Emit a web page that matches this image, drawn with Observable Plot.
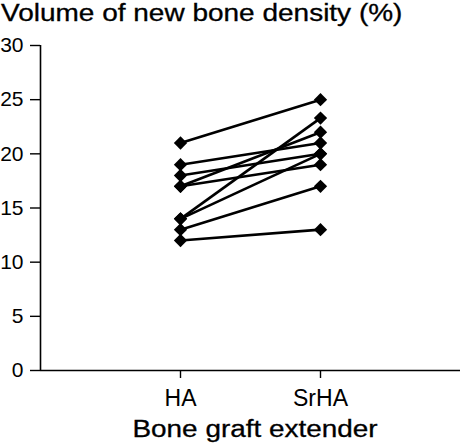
<!DOCTYPE html>
<html><head><meta charset="utf-8">
<script src="https://cdn.jsdelivr.net/npm/d3@7"></script>
<script src="https://cdn.jsdelivr.net/npm/@observablehq/plot@0.6"></script>
<style>
body{margin:0;background:#fff;font-family:"Liberation Sans",Arial,Helvetica,sans-serif;color:#000;width:462px;height:444px;overflow:hidden;}
#title{height:30px;line-height:30px;font-size:23px;white-space:nowrap;position:relative;}
#title span{display:inline-block;transform-origin:0 50%;transform:scaleX(1.217);position:relative;left:1px;top:-2px;-webkit-text-stroke:0.3px #000;}
#chart{height:385px;}
#xlabel{height:29px;line-height:29px;font-size:23px;white-space:nowrap;position:relative;}
#xlabel span{position:absolute;left:255px;display:inline-block;transform:translateX(-50%) scaleX(1.213);-webkit-text-stroke:0.3px #000;}
</style>
</head><body>
<div id="title"><span>Volume of new bone density (%)</span></div>
<div id="chart"></div>
<div id="xlabel"><span>Bone graft extender</span></div>
<script>
const categories = ["HA", "SrHA"];
const haValues   = [21, 19, 18, 17, 17, 14, 14, 13, 12];
const srhaValues = [25, 21, 20, 19, 22, 23.3, 20, 17, 13];
const yTicks = [0, 5, 10, 15, 20, 25, 30];

const pairs = haValues.map((v, i) => ({ha: v, srha: srhaValues[i]}));
const points = pairs.flatMap(d => [
  {cat: categories[0], v: d.ha},
  {cat: categories[1], v: d.srha}
]);
const xPos = c => categories.indexOf(c) + 1;

const plot = Plot.plot({
  width: 462,
  height: 385,
  marginLeft: 40,
  marginRight: 2,
  marginTop: 15,
  marginBottom: 45,
  style: {fontFamily: "'Liberation Sans', Arial, sans-serif", fontSize: "21px", color: "#000", background: "#fff"},
  x: {type: "linear", domain: [0, categories.length + 1]},
  y: {domain: [0, 30]},
  marks: [
    Plot.axisY({ticks: yTicks, tickSize: 10, tickPadding: 7, label: null, fontSize: 21, strokeWidth: 1.4}),
    Plot.axisX({ticks: categories.map(xPos), tickFormat: d => categories[d - 1], tickSize: 8, tickPadding: 11, label: null, fontSize: 23, strokeWidth: 1.4}),
    Plot.ruleX([0], {strokeWidth: 1.6}),
    Plot.ruleY([0], {strokeWidth: 1.6}),
    Plot.link(pairs, {x1: () => xPos(categories[0]), y1: "ha", x2: () => xPos(categories[1]), y2: "srha", stroke: "#000", strokeWidth: 2.6}),
    Plot.dot(points, {x: d => xPos(d.cat), y: "v", symbol: "square", rotate: 45, r: 5.3, fill: "#000", stroke: "none"})
  ]
});
document.getElementById("chart").appendChild(plot);
</script>
</body></html>
